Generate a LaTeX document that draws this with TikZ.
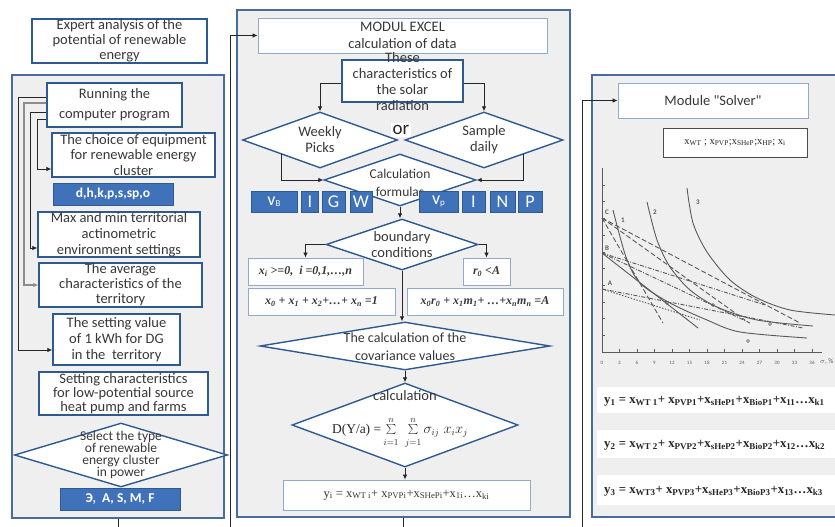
\documentclass[tikz,border=0pt]{standalone}
\usepackage{fontspec}
\setmainfont{Carlito}
\newfontfamily\tms{Liberation Serif}
\usetikzlibrary{shapes.geometric,arrows.meta}
\definecolor{pborder}{HTML}{4A6C9B}
\definecolor{pfill}{HTML}{EFEFEF}
\definecolor{bborder}{HTML}{2F5A8F}
\definecolor{lborder}{HTML}{8FAACC}
\definecolor{bfill}{HTML}{3F72B8}
\definecolor{txt}{HTML}{383838}
\definecolor{cgray}{HTML}{5A5A5A}
\newcommand\fsz[2]{\fontsize{#1}{#2}\selectfont}
\newcommand\sbs[1]{\textsubscript{#1}}
\newcommand\uplim[1]{\raisebox{0pt}[\height][3pt]{$\scriptstyle #1$}}
\newcommand\lolim[1]{\raisebox{0pt}[9pt][\depth]{$\scriptstyle #1$}}
\begin{document}
\begin{tikzpicture}[x=1pt,y=-1pt,
 panel/.style={draw=pborder,line width=1.8pt,fill=pfill,inner sep=0pt},
 box/.style={draw=bborder,line width=1.4pt,fill=white,inner sep=0pt,text=txt,align=center,font=\fsz{14.5}{15}},
 lbox/.style={draw=lborder,line width=0.9pt,fill=white,inner sep=0pt,text=txt,align=center},
 bbox/.style={draw=bborder,line width=0.8pt,fill=bfill,inner sep=0pt,text=white,align=center},
 diam/.style={diamond,draw=bborder,line width=1.4pt,fill=white,inner sep=0pt},
 dtext/.style={text=txt,align=center,inner sep=0pt,font=\fsz{14.5}{15}},
 arr/.style={draw=black!85,line width=0.8pt,-{Latex[length=5pt,width=4.5pt]}},
 curve/.style={draw=cgray,line width=0.9pt},
 dl/.style={draw=cgray,line width=0.9pt,dash pattern=on 5pt off 2.5pt},
 ddl/.style={draw=cgray,line width=0.9pt,dash pattern=on 4pt off 1.5pt on 1pt off 1.5pt},
 clab/.style={text=cgray,inner sep=0pt,font=\bfseries\fsz{7}{7}},
 yrow/.style={fill=white,draw=none,inner sep=0pt,minimum width=240pt,anchor=west},
 ytext/.style={inner sep=0pt,anchor=west,text=black!85,font=\tms\bfseries\fsz{12.8}{13}},
 ]
\useasboundingbox (0,0) rectangle (835,527);
\clip (0,0) rectangle (835,527);
\fill[white] (0,0) rectangle (835,527);

% ---------------- panels ----------------
\node[panel,minimum width=212pt,minimum height=443pt] (lpanel) at (118,296.5) {};
\node[panel,minimum width=333pt,minimum height=507pt] (mpanel) at (403.5,263.5) {};
\node[panel,minimum width=258pt,minimum height=442pt] (rpanel) at (721,296) {};

% ---------------- left column ----------------
\node[box,minimum width=175pt,minimum height=44pt] (expert) at (119.5,41) {Expert analysis of the\\potential of renewable\\energy};
\node[box,minimum width=135pt,minimum height=44pt,font=\fsz{14.5}{20}] (running) at (114.5,105) {Running the\\computer program};
\node[box,minimum width=163pt,minimum height=44pt,font=\fsz{14.5}{15.5}] (choice) at (133.5,155) {The choice of equipment\\for renewable energy\\cluster};
\node[bbox,minimum width=120pt,minimum height=22pt,font=\bfseries\fsz{13.5}{14}] (dh) at (113,194) {d,h,k,p,s,sp,o};
\node[box,minimum width=162pt,minimum height=45pt,font=\fsz{14.5}{16}] (maxb) at (119,234.5) {Max and min territorial\\actinometric\\environment settings};
\node[box,minimum width=163pt,minimum height=44pt] (avg) at (120.5,285) {The average\\characteristics of the\\territory};
\node[box,minimum width=127pt,minimum height=51pt,font=\fsz{14.5}{16}] (setval) at (116.5,339.5) {The setting value\\of 1 kWh for DG\\in the~ territory};
\node[box,minimum width=169pt,minimum height=43pt,font=\fsz{14.5}{14}] (lowpot) at (123.5,393.5) {Setting characteristics\\for low-potential source\\heat pump and farms};
\node[diam,minimum width=213pt,minimum height=64pt] (select) at (121,455) {};
\node[dtext,font=\fsz{13.5}{12}] (selectt) at (121,455) {Select the type\\of renewable\\energy cluster\\in power};
\node[bbox,minimum width=120pt,minimum height=22pt,font=\bfseries\fsz{13.5}{14}] (eas) at (120,499) {Э,~ A, S, M, F};

\draw[arr] (running.west |- 0,119) -- (37,119) |- (choice.west |- 0,169);
\draw[arr] (running.west |- 0,112) -- (30,112) |- (maxb.west |- 0,248);
\draw[arr,draw=black!45,line width=1.3pt] (running.west |- 0,103) -- (24,103) |- (avg.west |- 0,285);
\draw[arr] (running.west |- 0,97) -- (18,97) |- (setval.west |- 0,350);

% ---------------- middle column ----------------
\node[lbox,minimum width=289pt,minimum height=35pt,font=\fsz{14.5}{17}] (excel) at (402.5,35.5) {MODUL EXCEL\\calculation of data};
\node[box,minimum width=121pt,minimum height=42pt] (solar) at (402.5,81) {};
\node[dtext,font=\fsz{14.5}{16}] (solart) at (402.5,82) {These\\characteristics of\\the solar\\radiation};
\node[diam,minimum width=155pt,minimum height=56pt] (weekly) at (320,140) {};
\node[dtext,font=\fsz{14.5}{16}] (weeklyt) at (320,140) {Weekly\\Picks};
\node[diam,minimum width=158pt,minimum height=56pt] (sample) at (484,140) {};
\node[dtext,font=\fsz{14.5}{16}] (samplet) at (484,140) {Sample\\daily};
\node[fill=white,inner sep=2pt,text=black!85,font=\fsz{19}{19}] (or) at (401,130) {or};
\draw[arr] (solar.west |- 0,83) -| (weekly.north);
\draw[arr] (solar.east |- 0,83) -| (sample.north);

\node[diam,minimum width=152pt,minimum height=52pt] (calc) at (400,180) {};
\node[dtext,font=\fsz{13.5}{18}] (calct) at (400,183) {Calculation\\formulas};
\draw[arr] (weekly.south west) |- (calc.west);
\draw[arr] (sample.south east) |- (calc.east);

\begin{scope}[every node/.style={bbox,minimum height=21pt,font=\fsz{18}{18}}]
\node[minimum width=46pt] (vb) at (274,201.5) {v\raisebox{-1pt}{\fsz{9}{9}B}};
\node[minimum width=17pt] (i1) at (310,201.5) {I};
\node[minimum width=23pt] (g) at (333.5,201.5) {G};
\node[minimum width=22pt] (w) at (361,201.5) {W};
\node[minimum width=39pt] (vp) at (438.5,201.5) {v\raisebox{-1pt}{\fsz{9}{9}p}};
\node[minimum width=23pt] (i2) at (473.5,201.5) {I};
\node[minimum width=25pt] (n) at (502.5,201.5) {N};
\node[minimum width=24pt] (p) at (530,201.5) {P};
\end{scope}

\node[diam,minimum width=152pt,minimum height=51pt] (boundary) at (402,244.5) {};
\node[dtext,font=\fsz{14.5}{16}] (boundaryt) at (402,245) {boundary\\conditions};
\draw[arr] (calc.south) -- (calc.south |- boundary.north);

\begin{scope}[every node/.style={lbox,minimum height=27pt,font=\tms\bfseries\itshape\fsz{12}{12}}]
\node[minimum width=115pt] (xi) at (305.5,271.5) {x\sbs{i} >=0,~ i =0,1,\ldots,n};
\node[minimum width=47pt] (r0) at (486.5,271.5) {r\sbs{0} <A};
\node[minimum width=147pt] (sum1) at (321.5,301.5) {x\sbs{0} + x\sbs{1} + x\sbs{2}+\ldots+ x\sbs{n} =1};
\node[minimum width=156pt] (sum2) at (485,301.5) {x\sbs{0}r\sbs{0} + x\sbs{1}m\sbs{1}+ \ldots+x\sbs{n}m\sbs{n} =A};
\end{scope}
\draw[arr] (boundary.west) -| (xi.north);
\draw[arr] (boundary.east) -| (r0.north);

\node[diam,minimum width=290pt,minimum height=48pt] (cov) at (405,346) {};
\node[dtext,font=\fsz{14}{18}] (covt) at (405,347) {The calculation of the\\covariance values};
\draw[arr] (boundary.south) -- (boundary.south |- cov.north);

\node[diam,minimum width=226pt,minimum height=84pt] (calc2) at (405,425) {};
\node[dtext,font=\fsz{14.5}{15}] (calc2t) at (405,396) {calculation};
\node[inner sep=0pt,text=black!85,font=\fsz{13.5}{13.5}] (calc2f) at (400,433) {$\mbox{\tms D(Y/a) =}\sum\limits_{\lolim{i=1}}^{\uplim{n}}\;\sum\limits_{\lolim{j=1}}^{\uplim{n}}\sigma_{ij}\;x_ix_j$};
\draw[arr] (cov.south) -- (calc2.north);

\node[lbox,minimum width=247pt,minimum height=30pt,font=\tms\fsz{12.5}{12}] (yi) at (406.5,495) {y\sbs{i} = x\sbs{WT i}+ x\sbs{PVPi}+x\sbs{SHePi}+x\sbs{1i}\ldots x\sbs{ki}};
\draw[arr] (calc2.south) -- (calc2.south |- yi.north);

% ---------------- right column ----------------
\node[lbox,minimum width=190pt,minimum height=35pt,font=\fsz{14.5}{15}\addfontfeature{Ligatures=TeXOff}] (solver) at (713,100.5) {Module "Solver"};
\node[draw=black!70,line width=1pt,fill=white,minimum width=144pt,minimum height=29pt,inner sep=0pt,text=black!85,font=\tms\fsz{10.5}{10}] (xbox) at (735,142.5) {x\sbs{WT} ; x\sbs{PVP};x\sbs{SHeP};x\sbs{HP}; x\sbs{i}};

% chart
\draw[curve,line width=0.8pt] (602,168) -- (602,352) -- (822,352);
\foreach \k in {0,...,10} \draw[curve,line width=0.6pt] (602,185+16.7*\k) -- (605,185+16.7*\k);
\foreach \i [evaluate=\i as \lab using int(3*\i)] in {0,...,12} {
  \draw[curve,line width=0.6pt] (602+17.5*\i,352) -- (602+17.5*\i,349);
  \node[inner sep=0pt,text=cgray,font=\fsz{5}{5}] (tl\i) at (602+17.5*\i,363) {\lab};
}
\node[inner sep=0pt,anchor=west,text=cgray,font=\fsz{7}{7}] (sig) at (820,362) {$\sigma$, \%};

\coordinate (cC) at (602,218);
\coordinate (cB) at (602,253);
\coordinate (cA) at (602,289);
\draw[curve] plot[smooth] coordinates {(613,210) (626,257) (640,283) (670,303) (707,320) (740,332) (807,338)};
\draw[curve] plot[smooth] coordinates {(647,202) (657,240) (670,267) (690,290) (717,307) (757,320) (813,326)};
\draw[curve] plot[smooth] coordinates {(687,188) (693,223) (707,252) (730,280) (757,298) (790,310) (835,315)};
\draw[dl] (cC) -- (800,323);
\draw[dl] (cC) -- (745,320);
\draw[dl] (cC) -- (663,323);
\draw[ddl] (cB) -- (750,323);
\draw[curve] (cB) -- (698,328);
\draw[ddl] (cB) -- (765,305);
\draw[ddl] (cA) -- (803,328);
\draw[cgray,line width=0.9pt,dash pattern=on 1.5pt off 1.5pt] (cA) -- (700,320);
\foreach \q in {(713,305),(770,324),(748,341),(667,303)} \draw[cgray,line width=0.5pt] \q circle (1.5pt);
\node[clab] (lC) at (607,212) {C};
\node[clab] (lB) at (607,248) {B};
\node[clab] (lA) at (610,283) {A};
\node[clab] (l1) at (623,220) {1};
\node[clab] (l2) at (655,212) {2};
\node[clab] (l3) at (698,202) {3};

% y rows
\node[yrow,minimum height=26pt] (row1) at (597,400) {};
\node[yrow,minimum height=28pt] (row2) at (597,444) {};
\node[yrow,minimum height=30pt] (row3) at (597,490) {};
\node[ytext] (y1) at (604,401) {y\sbs{1} = x\sbs{WT 1}+ x\sbs{PVP1}+x\sbs{sHeP1}+x\sbs{BioP1}+x\sbs{11}\ldots x\sbs{k1}};
\node[ytext] (y2) at (604,445) {y\sbs{2} = x\sbs{WT 2}+ x\sbs{PVP2}+x\sbs{sHeP2}+x\sbs{BioP2}+x\sbs{12}\ldots x\sbs{k2}};
\node[ytext] (y3) at (604,491) {y\sbs{3} = x\sbs{WT3}+ x\sbs{PVP3}+x\sbs{sHeP3}+x\sbs{BioP3}+x\sbs{13}\ldots x\sbs{k3}};

% ---------------- cross-panel connectors ----------------
\coordinate (j1) at (230,535);
\coordinate (j2) at (582,535);
\draw[arr] (lpanel.south) |- (j1) |- (excel.west);
\draw[arr] (mpanel.south) |- (j2) |- (solver.west);
\end{tikzpicture}
\end{document}
